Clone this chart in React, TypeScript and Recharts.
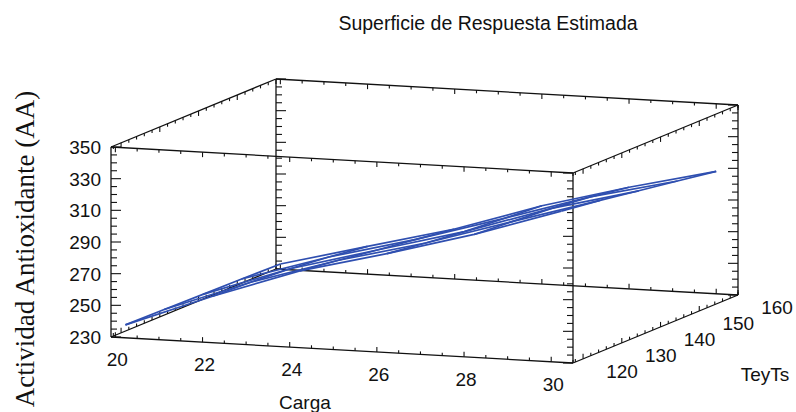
import React from "react";
import { ScatterChart, Scatter, XAxis, YAxis } from "recharts";

// Fitted surface: rows follow cargaGrid, columns follow teyTsGrid
const cargaGrid = [20, 22, 24, 26, 28, 30];
const teyTsGrid = [120, 130, 140, 150, 160];
const aaSurface = [
  [235.2, 234.8, 234.3, 233.9, 233.3],
  [256.4, 255.3, 253.6, 250.9, 247.5],
  [275.5, 272.1, 268.5, 265.1, 261.6],
  [289.5, 286.1, 283.2, 281.3, 279.4],
  [304.7, 302.9, 301.0, 298.2, 294.2],
  [322.5, 319.2, 315.2, 311.3, 307.3],
];

// Labelled ticks on each axis
const cargaLabels = [20, 22, 24, 26, 28, 30];
const teyTsLabels = [120, 130, 140, 150, 160];
const aaLabels = [230, 250, 270, 290, 310, 330, 350];

// Extents of the bounding box
const cargaBox = [19.9, 30.5];
const teyTsBox = [117.4, 160];
const aaBox = [230, 350];

const W = 796;
const H = 412;

// Oblique view: where the box origin lands and how each axis is laid out on screen
const ORIGIN = { x: 111, y: 337 };
const CARGA_VEC = { x: 462, y: 26 };
const TEYTS_VEC = { x: 165, y: -68 };
const AA_VEC = { x: 0, y: -190 };

type P3 = [number, number, number];

function project(c: number, t: number, a: number) {
  const u = (c - cargaBox[0]) / (cargaBox[1] - cargaBox[0]);
  const v = (t - teyTsBox[0]) / (teyTsBox[1] - teyTsBox[0]);
  const w = (a - aaBox[0]) / (aaBox[1] - aaBox[0]);
  return {
    x: ORIGIN.x + u * CARGA_VEC.x + v * TEYTS_VEC.x + w * AA_VEC.x,
    y: ORIGIN.y + u * CARGA_VEC.y + v * TEYTS_VEC.y + w * AA_VEC.y,
  };
}

function steps(from: number, to: number, step: number) {
  const out: number[] = [];
  for (let v = from; v <= to + 1e-9; v += step) out.push(+v.toFixed(3));
  return out;
}

const corner = (i: number, j: number, k: number): P3 => [cargaBox[i], teyTsBox[j], aaBox[k]];

const boxEdges: [P3, P3][] = [];
for (const i of [0, 1])
  for (const j of [0, 1]) boxEdges.push([corner(i, j, 0), corner(i, j, 1)]);
for (const i of [0, 1])
  for (const k of [0, 1]) boxEdges.push([corner(i, 0, k), corner(i, 1, k)]);
for (const j of [0, 1])
  for (const k of [0, 1]) boxEdges.push([corner(0, j, k), corner(1, j, k)]);

type TickGroup = { pts: { x: number; y: number; major: boolean }[]; dx: number; dy: number; long: number; short: number };
const tickGroups: TickGroup[] = [];

// AA ticks on the four uprights, pointing into the box
for (const i of [0, 1])
  for (const j of [0, 1])
    tickGroups.push({
      pts: steps(aaBox[0], aaBox[1], 5).map((a) => ({
        ...project(cargaBox[i], teyTsBox[j], a),
        major: (a - aaBox[0]) % 20 === 0,
      })),
      dx: i === 0 ? 1 : -1,
      dy: 0,
      long: 10,
      short: 6,
    });

// Carga ticks along the four Carga edges
for (const j of [0, 1])
  for (const k of [0, 1])
    tickGroups.push({
      pts: steps(20, 30.5, 0.5).map((c) => ({
        ...project(c, teyTsBox[j], aaBox[k]),
        major: c % 2 === 0,
      })),
      dx: 0,
      dy: k === 0 ? -1 : 1,
      long: 5,
      short: 3,
    });

// TeyTs ticks along the four depth edges
for (const i of [0, 1])
  for (const k of [0, 1])
    tickGroups.push({
      pts: steps(118, 160, 2).map((t) => ({
        ...project(cargaBox[i], t, aaBox[k]),
        major: t % 10 === 0,
      })),
      dx: 0,
      dy: k === 0 ? -1 : 1,
      long: 5,
      short: 3,
    });

// Mesh lines of the surface
const cargaLines = cargaGrid.map((c, i) =>
  teyTsGrid.map((t, j) => project(c, t, aaSurface[i][j]))
);
const teyTsLines = teyTsGrid.map((t, j) =>
  cargaGrid.map((c, i) => project(c, t, aaSurface[i][j]))
);

const aaTickText = aaLabels.map((a) => ({ ...project(cargaBox[0], teyTsBox[0], a), text: String(a) }));
const cargaTickText = cargaLabels.map((c) => ({ ...project(c, teyTsBox[0], aaBox[0]), text: String(c) }));
const teyTsTickText = teyTsLabels.map((t) => ({ ...project(cargaBox[1], t, aaBox[0]), text: String(t) }));

const aaTitle = [{ ...project(cargaBox[0], teyTsBox[0], 290), text: "Actividad Antioxidante (AA)" }];
const cargaTitle = [{ ...project(24.35, teyTsBox[0], aaBox[0]), text: "Carga" }];
const teyTsTitle = [{ ...project(cargaBox[1], teyTsBox[1], aaBox[0]), text: "TeyTs" }];
const chartTitle = [{ x: 488, y: 30, text: "Superficie de Respuesta Estimada" }];

const SANS = "'Liberation Sans', Arial, sans-serif";
const SERIF = "'Liberation Serif', 'Times New Roman', serif";
const BOX_COLOR = "#111";
const MESH_COLOR = "#2f4fb0";

const noDot = () => <g />;

const tickMark = (g: TickGroup) => (p: any) => {
  const len = p.payload.major ? g.long : g.short;
  return (
    <line
      x1={p.cx}
      y1={p.cy}
      x2={p.cx + g.dx * len}
      y2={p.cy + g.dy * len}
      stroke={BOX_COLOR}
      strokeWidth={1.1}
    />
  );
};

const textMark =
  (dx: number, dy: number, anchor: "start" | "middle" | "end", size: number, family = SANS, rotate = 0) =>
  (p: any) => {
    const x = p.cx + dx;
    const y = p.cy + dy;
    return (
      <text
        x={x}
        y={y}
        textAnchor={anchor}
        fontSize={size}
        fontFamily={family}
        fill="#111"
        transform={rotate ? `rotate(${rotate} ${x} ${y})` : undefined}
      >
        {p.payload.text}
      </text>
    );
  };

export default function App() {
  return (
    <div style={{ position: "absolute", left: 0, top: 0, background: "#fff" }}>
      <ScatterChart width={W} height={H} margin={{ top: 0, right: 0, bottom: 0, left: 0 }}>
        <XAxis type="number" dataKey="x" domain={[0, W]} allowDataOverflow hide />
        <YAxis type="number" dataKey="y" domain={[0, H]} allowDataOverflow reversed hide />

        {boxEdges.map(([a, b], i) => (
          <Scatter
            key={`edge-${i}`}
            data={[project(...a), project(...b)]}
            line={{ stroke: BOX_COLOR, strokeWidth: 1.3 }}
            shape={noDot}
            isAnimationActive={false}
          />
        ))}

        {tickGroups.map((g, i) => (
          <Scatter key={`ticks-${i}`} data={g.pts} shape={tickMark(g)} isAnimationActive={false} />
        ))}

        {[...cargaLines, ...teyTsLines].map((pts, i) => (
          <Scatter
            key={`mesh-${i}`}
            data={pts}
            line={{ stroke: MESH_COLOR, strokeWidth: 1.7 }}
            shape={noDot}
            isAnimationActive={false}
          />
        ))}

        <Scatter data={aaTickText} shape={textMark(-10, 7, "end", 19)} isAnimationActive={false} />
        <Scatter data={cargaTickText} shape={textMark(2, 29, "middle", 19)} isAnimationActive={false} />
        <Scatter data={teyTsTickText} shape={textMark(39, 19, "middle", 19)} isAnimationActive={false} />

        <Scatter data={aaTitle} shape={textMark(-77, 7, "middle", 27, SERIF, -90)} isAnimationActive={false} />
        <Scatter data={cargaTitle} shape={textMark(0, 61, "middle", 19)} isAnimationActive={false} />
        <Scatter data={teyTsTitle} shape={textMark(27, 86, "middle", 19)} isAnimationActive={false} />
        <Scatter data={chartTitle} shape={textMark(0, 0, "middle", 19.5)} isAnimationActive={false} />
      </ScatterChart>
    </div>
  );
}
